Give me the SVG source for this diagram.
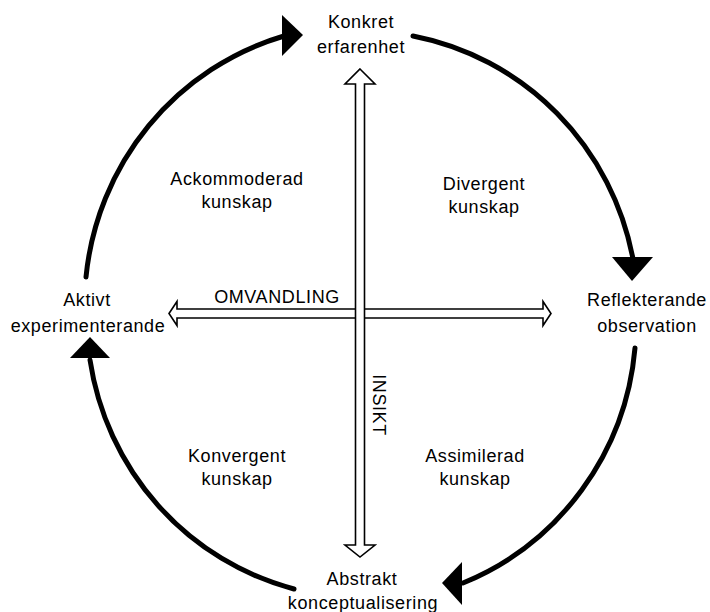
<svg xmlns="http://www.w3.org/2000/svg" width="710" height="612" viewBox="0 0 710 612">
  <style>
    .lbl { font-family: "Liberation Sans", Arial, sans-serif; font-size: 18px; letter-spacing: 0.6px; fill: #000; text-anchor: middle; }
    .cycle { fill: none; stroke: #000; stroke-width: 5; stroke-linecap: round; }
    .head { fill: #000; stroke: none; }
    .hollow { fill: #fff; stroke: #000; stroke-width: 1.6; stroke-linejoin: miter; }
  </style>

  <rect width="710" height="612" fill="#fff"/>

  <!-- learning cycle: four arcs with solid arrowheads -->
  <g id="connectors">
    <path class="cycle" d="M 86 277 A 277 280 0 0 1 284 36"/>
    <polygon class="head" points="303,35 282,15 282,56"/>

    <path class="cycle" d="M 413 36 A 277 280 0 0 1 633 259"/>
    <polygon class="head" points="632,281 612,257 653,257"/>

    <path class="cycle" d="M 635 348 A 277 280 0 0 1 463 583"/>
    <polygon class="head" points="442,583 462,562 462,605"/>

    <path class="cycle" d="M 294 589 A 277 280 0 0 1 90 360"/>
    <polygon class="head" points="90,337 70,358 110,358"/>

    <!-- transformation axis (horizontal) -->
    <polygon class="hollow" points="169,313.5 177,301.5 177,309 543,309 543,301.5 551,313.5 543,325.5 543,318 177,318 177,325.5"/>
    <!-- insight axis (vertical) -->
    <polygon class="hollow" points="360,69 375,84 364.5,84 364.5,545 375,545 360,557 345,545 355.5,545 355.5,84 345,84"/>
  </g>

  <g id="konkret-erfarenhet">
    <text class="lbl" x="361" y="28">Konkret</text>
    <text class="lbl" x="361" y="53">erfarenhet</text>
  </g>

  <g id="reflekterande-observation">
    <text class="lbl" x="647" y="306">Reflekterande</text>
    <text class="lbl" x="647" y="332">observation</text>
  </g>

  <g id="abstrakt-konceptualisering">
    <text class="lbl" x="362" y="585">Abstrakt</text>
    <text class="lbl" x="363" y="609">konceptualisering</text>
  </g>

  <g id="aktivt-experimenterande">
    <text class="lbl" x="87" y="306">Aktivt</text>
    <text class="lbl" x="88" y="332">experimenterande</text>
  </g>

  <g id="ackommoderad-kunskap">
    <text class="lbl" x="237" y="185">Ackommoderad</text>
    <text class="lbl" x="237" y="208">kunskap</text>
  </g>

  <g id="divergent-kunskap">
    <text class="lbl" x="484" y="190">Divergent</text>
    <text class="lbl" x="484" y="213">kunskap</text>
  </g>

  <g id="konvergent-kunskap">
    <text class="lbl" x="237" y="462">Konvergent</text>
    <text class="lbl" x="237" y="485">kunskap</text>
  </g>

  <g id="assimilerad-kunskap">
    <text class="lbl" x="475" y="462">Assimilerad</text>
    <text class="lbl" x="475" y="485">kunskap</text>
  </g>

  <g id="axis-labels">
    <text class="lbl" x="277" y="303">OMVANDLING</text>
    <text class="lbl" transform="translate(373,405) rotate(90)">INSIKT</text>
  </g>
</svg>
